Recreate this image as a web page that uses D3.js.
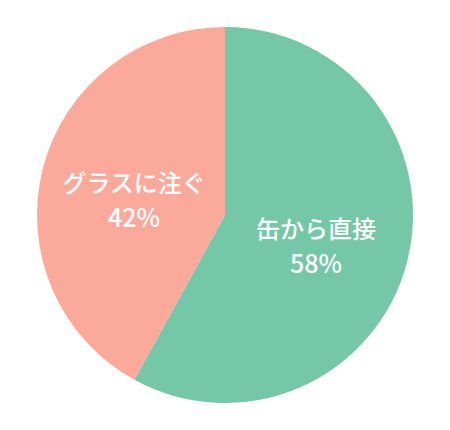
<!DOCTYPE html>
<html>
<head>
<meta charset="utf-8">
<title></title>
<script src="https://cdn.jsdelivr.net/npm/d3@7/dist/d3.min.js"></script>
<style>
  body { margin: 0; background: #fff; }
</style>
</head>
<body>
<div id="chart"></div>
<script>
    var labels = ["缶から直接", "グラスに注ぐ"];
    var values = [58, 42];
    var colors = ["#74c7a7", "#fba99b"];

    var width = 450, height = 430;
    var cx = 225, cy = 215, radius = 188;

    var svg = d3.select("#chart").append("svg")
        .attr("width", width)
        .attr("height", height);

    var g = svg.append("g")
        .attr("transform", "translate(" + cx + "," + cy + ")");

    var pie = d3.pie().sort(null).value(function(d) { return d; });
    var arcs = pie(values);

    var arc = d3.arc().innerRadius(0).outerRadius(radius);
    // labels sit about half way out
    var labelArc = d3.arc().innerRadius(radius * 0.5).outerRadius(radius * 0.5);

    g.selectAll("path")
        .data(arcs)
      .enter().append("path")
        .attr("d", arc)
        .attr("fill", function(d, i) { return colors[i]; });

    var text = g.selectAll("text.label")
        .data(arcs)
      .enter().append("text")
        .attr("class", "label")
        .attr("transform", function(d) {
            var c = labelArc.centroid(d);
            return "translate(" + c[0] + "," + (c[1] + 9) + ")";
        })
        .attr("text-anchor", "middle")
        .attr("fill", "#fff")
        .style("font-family", "'Noto Sans CJK JP', sans-serif")
        .style("font-weight", 500)
        .style("font-size", "24px");

    text.append("tspan")
        .attr("x", 0)
        .attr("y", -9)
        .text(function(d, i) { return labels[i]; });

    text.append("tspan")
        .attr("x", 0)
        .attr("y", 26)
        .style("font-size", "25px")
        .text(function(d) { return d.data + "%"; });
</script>
</body>
</html>
